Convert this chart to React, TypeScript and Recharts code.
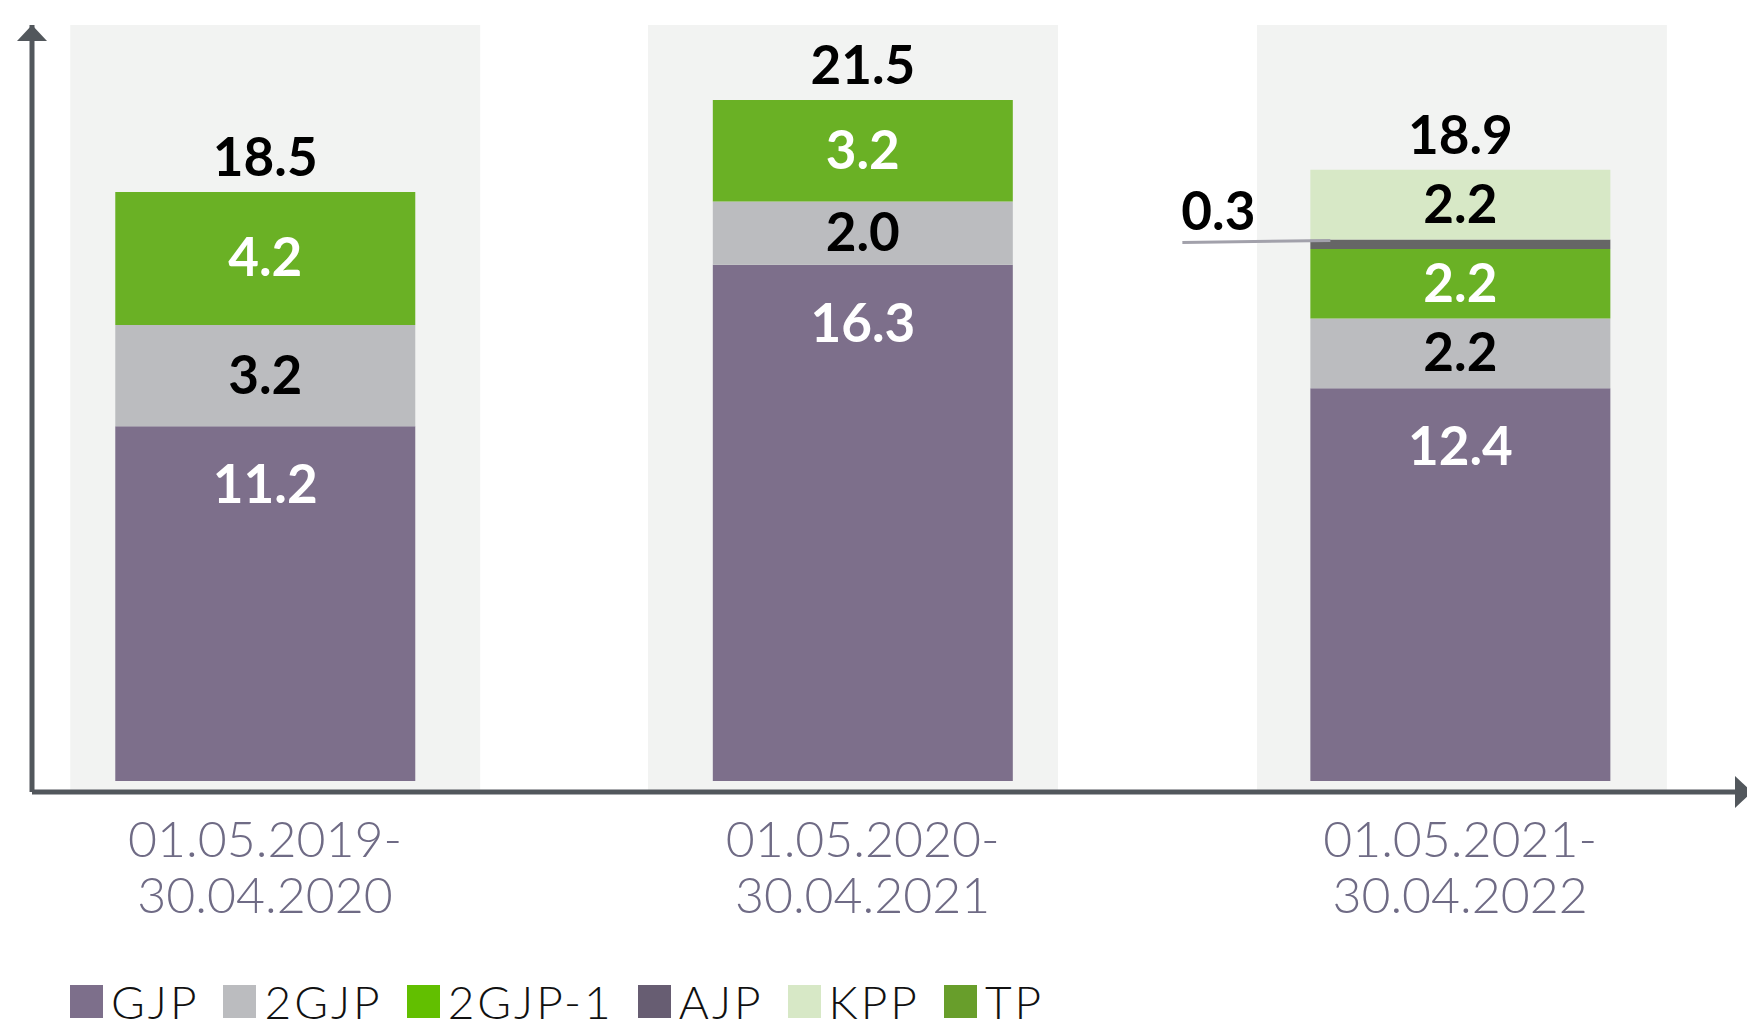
import React from "react";
import {
  BarChart,
  Bar,
  XAxis,
  YAxis,
  LabelList,
  Legend,
  ReferenceArea,
  ReferenceDot,
} from "recharts";

// ---- data ----
const categories = ["01.05.2019-30.04.2020", "01.05.2020-30.04.2021", "01.05.2021-30.04.2022"];
const gjp = [11.2, 16.3, 12.4];
const gjp2 = [3.2, 2.0, 2.2];
const gjp21 = [4.2, 3.2, 2.2];
const ajp = [0, 0, 0.3];
const kpp = [0, 0, 2.2];
const tp = [0, 0, 0];
const totals = [18.5, 21.5, 18.9];
const seriesNames = ["GJP", "2GJP", "2GJP-1", "AJP", "KPP", "TP"];

// ---- styles ----
const barColors = ["#7d6f8b", "#bbbcbf", "#6ab125", "#666666", "#d7e8c6", "#689e2b"];
const legendColors = ["#7d6f8b", "#bbbcbf", "#62bf00", "#675d72", "#d7e8c6", "#689e2b"];
const AXIS = "#52575c";
const PANEL = "#f2f3f2";
const Y_DOMAIN: [number, number] = [-0.35, 23.87];
const X_DOMAIN: [number, number] = [-0.39, 2.46];
const PANEL_HALF = 0.343;
const PANEL_SHIFT = [0.017, -0.016, 0.003];

const seriesValues = [gjp, gjp2, gjp21, ajp, kpp, tp];

const data = categories.map((c, i) => {
  const row: any = { idx: i, name: c };
  let topName = seriesNames[0];
  seriesNames.forEach((n, s) => {
    row[n] = seriesValues[s][i];
    if (seriesValues[s][i] > 0) topName = n;
  });
  seriesNames.forEach((n) => {
    row["total_" + n] = n === topName ? totals[i] : null;
  });
  return row;
});

const valueFont: React.CSSProperties = {
  fontFamily: "Lato, 'Open Sans', sans-serif",
  fontWeight: 700,
  fontSize: 53,
};

const box = (props: any) => {
  const vb = props.viewBox || {};
  return {
    x: props.x ?? vb.x,
    y: props.y ?? vb.y,
    width: props.width ?? vb.width,
    height: props.height ?? vb.height,
  };
};

const makeInside = (color: string, mode: "top" | "center") => (props: any) => {
  const { value } = props;
  if (!value) return null;
  const { x, y, width, height } = box(props);
  const h = Math.abs(height);
  const top = height < 0 ? y + height : y;
  const by = mode === "top" ? top + 77 : top + h / 2 + 18;
  return (
    <text x={x + width / 2} y={by} textAnchor="middle" fill={color} style={valueFont}>
      {Number(value).toFixed(1)}
    </text>
  );
};

const OutsideLeftLabel = (props: any) => {
  const { value } = props;
  if (!value) return null;
  const { x, y } = box(props);
  return (
    <g>
      <line x1={x - 128} y1={y + 3} x2={x + 20} y2={y + 1} stroke="#a2a1ab" strokeWidth={3} />
      <text x={x - 92} y={y - 9} textAnchor="middle" fill="#000" style={valueFont}>
        {Number(value).toFixed(1)}
      </text>
    </g>
  );
};

const TotalLabel = (props: any) => {
  const { value } = props;
  if (value === null || value === undefined || value === "") return null;
  const { x, y, width, height } = box(props);
  const top = height < 0 ? y + height : y;
  return (
    <text x={x + width / 2} y={top - 16} textAnchor="middle" fill="#000" style={valueFont}>
      {Number(value).toFixed(1)}
    </text>
  );
};

const CategoryTick = (props: any) => {
  const { x, y, payload } = props;
  const label = categories[payload.value] || "";
  const cut = label.indexOf("-") + 1;
  return (
    <text
      x={x}
      y={y}
      textAnchor="middle"
      fill="#6f6b85"
      style={{ fontFamily: "Lato, 'Open Sans', sans-serif", fontWeight: 300, fontSize: 50 }}
    >
      <tspan x={x} y={y + 65}>{label.slice(0, cut)}</tspan>
      <tspan x={x} y={y + 121}>{label.slice(cut)}</tspan>
    </text>
  );
};

const LegendContent = () => (
  <div
    style={{
      display: "flex",
      alignItems: "flex-start",
      paddingLeft: 70,
      paddingTop: 21,
      height: 60,
      boxSizing: "border-box",
      fontFamily: "Lato, 'Open Sans', sans-serif",
      fontWeight: 300,
      fontSize: 46,
      letterSpacing: 3,
      color: "#111",
      lineHeight: "33px",
      whiteSpace: "nowrap",
    }}
  >
    {seriesNames.map((n, i) => (
      <div key={n} style={{ display: "flex", alignItems: "flex-start", marginRight: 24 }}>
        <div style={{ width: 33, height: 33, background: legendColors[i], marginRight: 8 }} />
        <div style={{ height: 33, lineHeight: "46px", marginTop: -6 }}>{n}</div>
      </div>
    ))}
  </div>
);

const UpArrow = (p: any) => (
  <polygon points={`${p.cx - 15},${p.cy + 16} ${p.cx + 15},${p.cy + 16} ${p.cx},${p.cy}`} fill={AXIS} />
);
const RightArrow = (p: any) => (
  <polygon points={`${p.cx},${p.cy - 16} ${p.cx},${p.cy + 16} ${p.cx + 17},${p.cy}`} fill={AXIS} />
);

export default function App() {
  return (
    <div style={{ position: "absolute", left: 0, top: 0, width: 1747, height: 1024, background: "#fff" }}>
      <BarChart
        width={1747}
        height={1024}
        data={data}
        margin={{ top: 25, right: 12, left: 0, bottom: 0 }}
      >
        <XAxis
          type="number"
          dataKey="idx"
          domain={X_DOMAIN}
          allowDataOverflow
          ticks={[0, 1, 2]}
          interval={0}
          tickLine={false}
          tickSize={0}
          tickMargin={0}
          axisLine={{ stroke: AXIS, strokeWidth: 5 }}
          height={172}
          tick={<CategoryTick />}
        />
        <YAxis
          type="number"
          domain={Y_DOMAIN}
          allowDataOverflow
          tick={false}
          tickLine={false}
          width={32}
          axisLine={{ stroke: AXIS, strokeWidth: 5 }}
        />
        {categories.map((c, i) => (
          <ReferenceArea
            key={c}
            x1={i + PANEL_SHIFT[i] - PANEL_HALF}
            x2={i + PANEL_SHIFT[i] + PANEL_HALF}
            y1={Y_DOMAIN[0]}
            y2={Y_DOMAIN[1]}
            fill={PANEL}
            fillOpacity={1}
            stroke="none"
            ifOverflow="visible"
          />
        ))}
        <Bar dataKey="GJP" stackId="a" fill={barColors[0]} barSize={300} isAnimationActive={false}>
          <LabelList dataKey="GJP" content={makeInside("#fff", "top")} />
          <LabelList dataKey="total_GJP" content={TotalLabel} />
        </Bar>
        <Bar dataKey="2GJP" stackId="a" fill={barColors[1]} barSize={300} isAnimationActive={false}>
          <LabelList dataKey="2GJP" content={makeInside("#000", "center")} />
          <LabelList dataKey="total_2GJP" content={TotalLabel} />
        </Bar>
        <Bar dataKey="2GJP-1" stackId="a" fill={barColors[2]} barSize={300} isAnimationActive={false}>
          <LabelList dataKey="2GJP-1" content={makeInside("#fff", "center")} />
          <LabelList dataKey="total_2GJP-1" content={TotalLabel} />
        </Bar>
        <Bar dataKey="AJP" stackId="a" fill={barColors[3]} barSize={300} isAnimationActive={false}>
          <LabelList dataKey="AJP" content={OutsideLeftLabel} />
          <LabelList dataKey="total_AJP" content={TotalLabel} />
        </Bar>
        <Bar dataKey="KPP" stackId="a" fill={barColors[4]} barSize={300} isAnimationActive={false}>
          <LabelList dataKey="KPP" content={makeInside("#000", "center")} />
          <LabelList dataKey="total_KPP" content={TotalLabel} />
        </Bar>
        <Bar dataKey="TP" stackId="a" fill={barColors[5]} barSize={300} isAnimationActive={false}>
          <LabelList dataKey="total_TP" content={TotalLabel} />
        </Bar>
        <ReferenceDot x={X_DOMAIN[0]} y={Y_DOMAIN[1]} r={0} ifOverflow="visible" shape={UpArrow} />
        <ReferenceDot x={X_DOMAIN[1]} y={Y_DOMAIN[0]} r={0} ifOverflow="visible" shape={RightArrow} />
        <Legend
          verticalAlign="bottom"
          align="left"
          height={60}
          content={<LegendContent />}
          wrapperStyle={{ left: 0, width: 1747, height: 60 }}
        />
      </BarChart>
    </div>
  );
}
